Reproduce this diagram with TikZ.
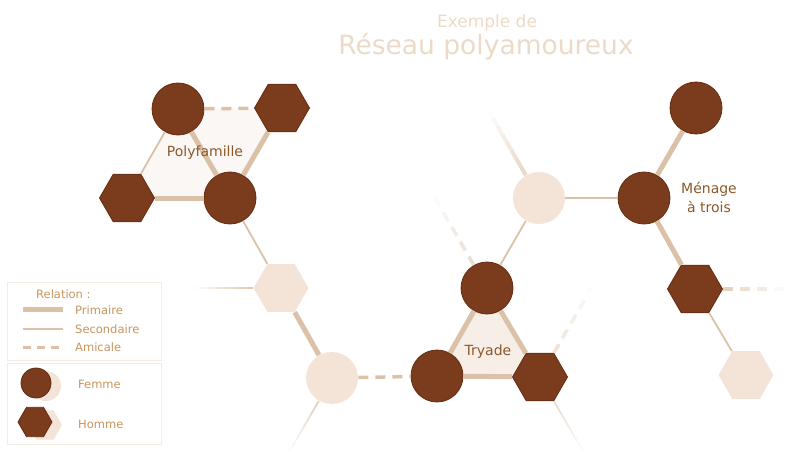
\documentclass[tikz,border=0pt]{standalone}
\usepackage{fontspec}
\setmainfont{DejaVu Sans}
\usepackage{tikz}
\usetikzlibrary{calc,shapes.geometric,backgrounds}
\definecolor{brun}{RGB}{122,60,28}
\definecolor{brunbord}{RGB}{100,44,16}
\definecolor{pale}{RGB}{244,228,216}
\definecolor{lien}{RGB}{218,193,167}
\definecolor{texte}{RGB}{140,88,40}
\definecolor{legende}{RGB}{201,148,92}
\definecolor{titre}{RGB}{236,218,200}
\definecolor{cadre}{RGB}{245,236,228}
\definecolor{fondpoly}{RGB}{251,247,244}
\definecolor{fondtri}{RGB}{247,238,232}
\tikzset{femme/.style={circle, fill=brun, draw=brunbord, line width=0.8pt,
         minimum size=52pt, inner sep=0pt},
         homme/.style={regular polygon, regular polygon sides=6, fill=brun,
         draw=brunbord, line width=0.8pt, minimum size=55pt, inner sep=0pt},
         palefemme/.style={femme, fill=pale, draw=none},
         palehomme/.style={homme, fill=pale, draw=none},
         primaire/.style={draw=lien, line width=5pt},
         secondaire/.style={draw=lien, line width=1.8pt},
         amicale/.style={draw=lien, line width=3.5pt, dash pattern=on 10pt off 7pt},
         etiquette/.style={text=texte, font=\fontsize{14}{19}\selectfont, align=center},
         legende/.style={text=legende, font=\fontsize{11.5}{13}\selectfont, inner sep=0pt},
         grandtitre/.style={text=titre, inner sep=0pt, anchor=base}}

\begin{document}
\begin{tikzpicture}[x=1pt,y=-1pt]
\useasboundingbox (0,0) rectangle (812,452);

% titre
\node [grandtitre, font=\fontsize{17}{20}\selectfont] (titre1) at (487,28) {Exemple de};
\node [grandtitre, font=\fontsize{26.5}{30}\selectfont] (titre2) at (486,55) {Réseau polyamoureux};

% polyfamille
\node [femme] (f1) at (178,109) {};
\node [homme] (h1) at (282,108) {};
\node [homme] (h2) at (127,198) {};
\node [femme] (f2) at (230,198) {};
\node [palehomme] (p1) at (281,288) {};
\node [palefemme] (p2) at (332,378) {};

% tryade
\node [femme] (t1) at (437,376) {};
\node [femme] (t2) at (487,288) {};
\node [homme] (t3) at (540,377) {};
\node [palefemme] (p3) at (539,198) {};

% menage a trois
\node [femme] (m1) at (696,108) {};
\node [femme] (m2) at (644,198) {};
\node [homme] (m3) at (695,289) {};
\node [palehomme] (p4) at (746,375) {};

\begin{scope}[on background layer]
\fill [fondpoly] (f1.center) -- (h1.center) -- (f2.center) -- (h2.center) -- cycle;
\fill [fondtri] (t1.center) -- (t2.center) -- (t3.center) -- cycle;
\end{scope}

\draw [amicale] (f1) -- (h1);
\draw [primaire] (h1) -- (f2);
\draw [primaire] (f1) -- (f2);
\draw [primaire] (h2) -- (f2);
\draw [secondaire] (f1) -- (h2);
\draw [secondaire] (f2) -- (p1);
\draw [primaire] (p1) -- (p2);
\draw [amicale] (p2) -- (t1);
\draw [primaire] (t1) -- (t2);
\draw [primaire] (t2) -- (t3);
\draw [primaire] (t1) -- (t3);
\draw [secondaire] (t2) -- (p3);
\draw [secondaire] (p3) -- (m2);
\draw [primaire] (m1) -- (m2);
\draw [primaire] (m2) -- (m3);
\draw [secondaire] (m3) -- (p4);

% liens qui s'effacent
\coordinate (finp1) at ($(p1.west)+(180:60pt)$);
\coordinate (finp2) at ($(p2.240)+(240:60pt)$);
\coordinate (finp3) at ($(p3.120)+(120:75pt)$);
\coordinate (fint2) at ($(t2.120)+(120:85pt)$);
\coordinate (fint3) at ($(t3.60)+(60:85pt)$);
\coordinate (fint3b) at ($(t3.300)+(300:60pt)$);
\coordinate (finm3) at ($(m3.east)+(0:68pt)$);
\foreach \i [evaluate=\i as \o using 0.9-0.9*(\i+0.5)/8] in {0,...,7}
  \draw [secondaire, draw opacity=\o] ($(p1.west)!\i/8!(finp1)$) -- ($(p1.west)!\i/8+1/8!(finp1)$);
\foreach \i [evaluate=\i as \o using 0.8-0.8*(\i+0.5)/8] in {0,...,7}
  \draw [secondaire, draw opacity=\o] ($(p2.240)!\i/8!(finp2)$) -- ($(p2.240)!\i/8+1/8!(finp2)$);
\foreach \i [evaluate=\i as \o using 0.65-0.65*(\i+0.5)/8] in {0,...,7}
  \draw [primaire, line width=4pt, draw opacity=\o] ($(p3.120)!\i/8!(finp3)$) -- ($(p3.120)!\i/8+1/8!(finp3)$);
\foreach \i [evaluate=\i as \o using 0.6-0.6*(\i+0.5)/5] in {0,...,4}
  \draw [amicale, draw opacity=\o] ($(t2.120)!\i/5!(fint2)$) -- ($(t2.120)!\i/5+1/5!(fint2)$);
\foreach \i [evaluate=\i as \o using 0.5-0.5*(\i+0.5)/5] in {0,...,4}
  \draw [amicale, draw opacity=\o] ($(t3.60)!\i/5!(fint3)$) -- ($(t3.60)!\i/5+1/5!(fint3)$);
\foreach \i [evaluate=\i as \o using 0.6-0.6*(\i+0.5)/8] in {0,...,7}
  \draw [secondaire, draw opacity=\o] ($(t3.300)!\i/8!(fint3b)$) -- ($(t3.300)!\i/8+1/8!(fint3b)$);
\foreach \i [evaluate=\i as \o using 0.8-0.8*(\i+0.5)/4] in {0,...,3}
  \draw [amicale, draw opacity=\o] ($(m3.east)!\i/4!(finm3)$) -- ($(m3.east)!\i/4+1/4!(finm3)$);

% etiquettes
\node [etiquette, anchor=base] (poly) at (205,157) {Polyfamille};
\node [etiquette, anchor=base] (tryade) at (488,355) {Tryade};
\node [etiquette] (menage) at (709,197) {Ménage\\à trois};

% legende
\draw [cadre, line width=1pt] (7,282) rectangle (161,360);
\draw [cadre, line width=1pt] (7,363) rectangle (161,444);
\node [legende, anchor=west] (rel) at (36,294) {Relation :};
\draw [primaire] (23,309) -- (63,309);
\node [legende, anchor=west] (prim) at (75,310) {Primaire};
\draw [secondaire, line width=1.3pt] (23,329) -- (63,329);
\node [legende, anchor=west] (sec) at (75,329) {Secondaire};
\draw [amicale, line width=3pt, dash pattern=on 8pt off 6pt] (23,347) -- (65,347);
\node [legende, anchor=west] (ami) at (75,347) {Amicale};
\node [palefemme, minimum size=30pt] (ombref) at (46,386) {};
\node [femme, minimum size=30pt] (legf) at (36,383) {};
\node [legende, anchor=west] (fem) at (78,384) {Femme};
\node [palehomme, minimum size=34pt] (ombreh) at (45,425) {};
\node [homme, minimum size=34pt] (legh) at (35,422) {};
\node [legende, anchor=west] (hom) at (78,424) {Homme};
\end{tikzpicture}
\end{document}
